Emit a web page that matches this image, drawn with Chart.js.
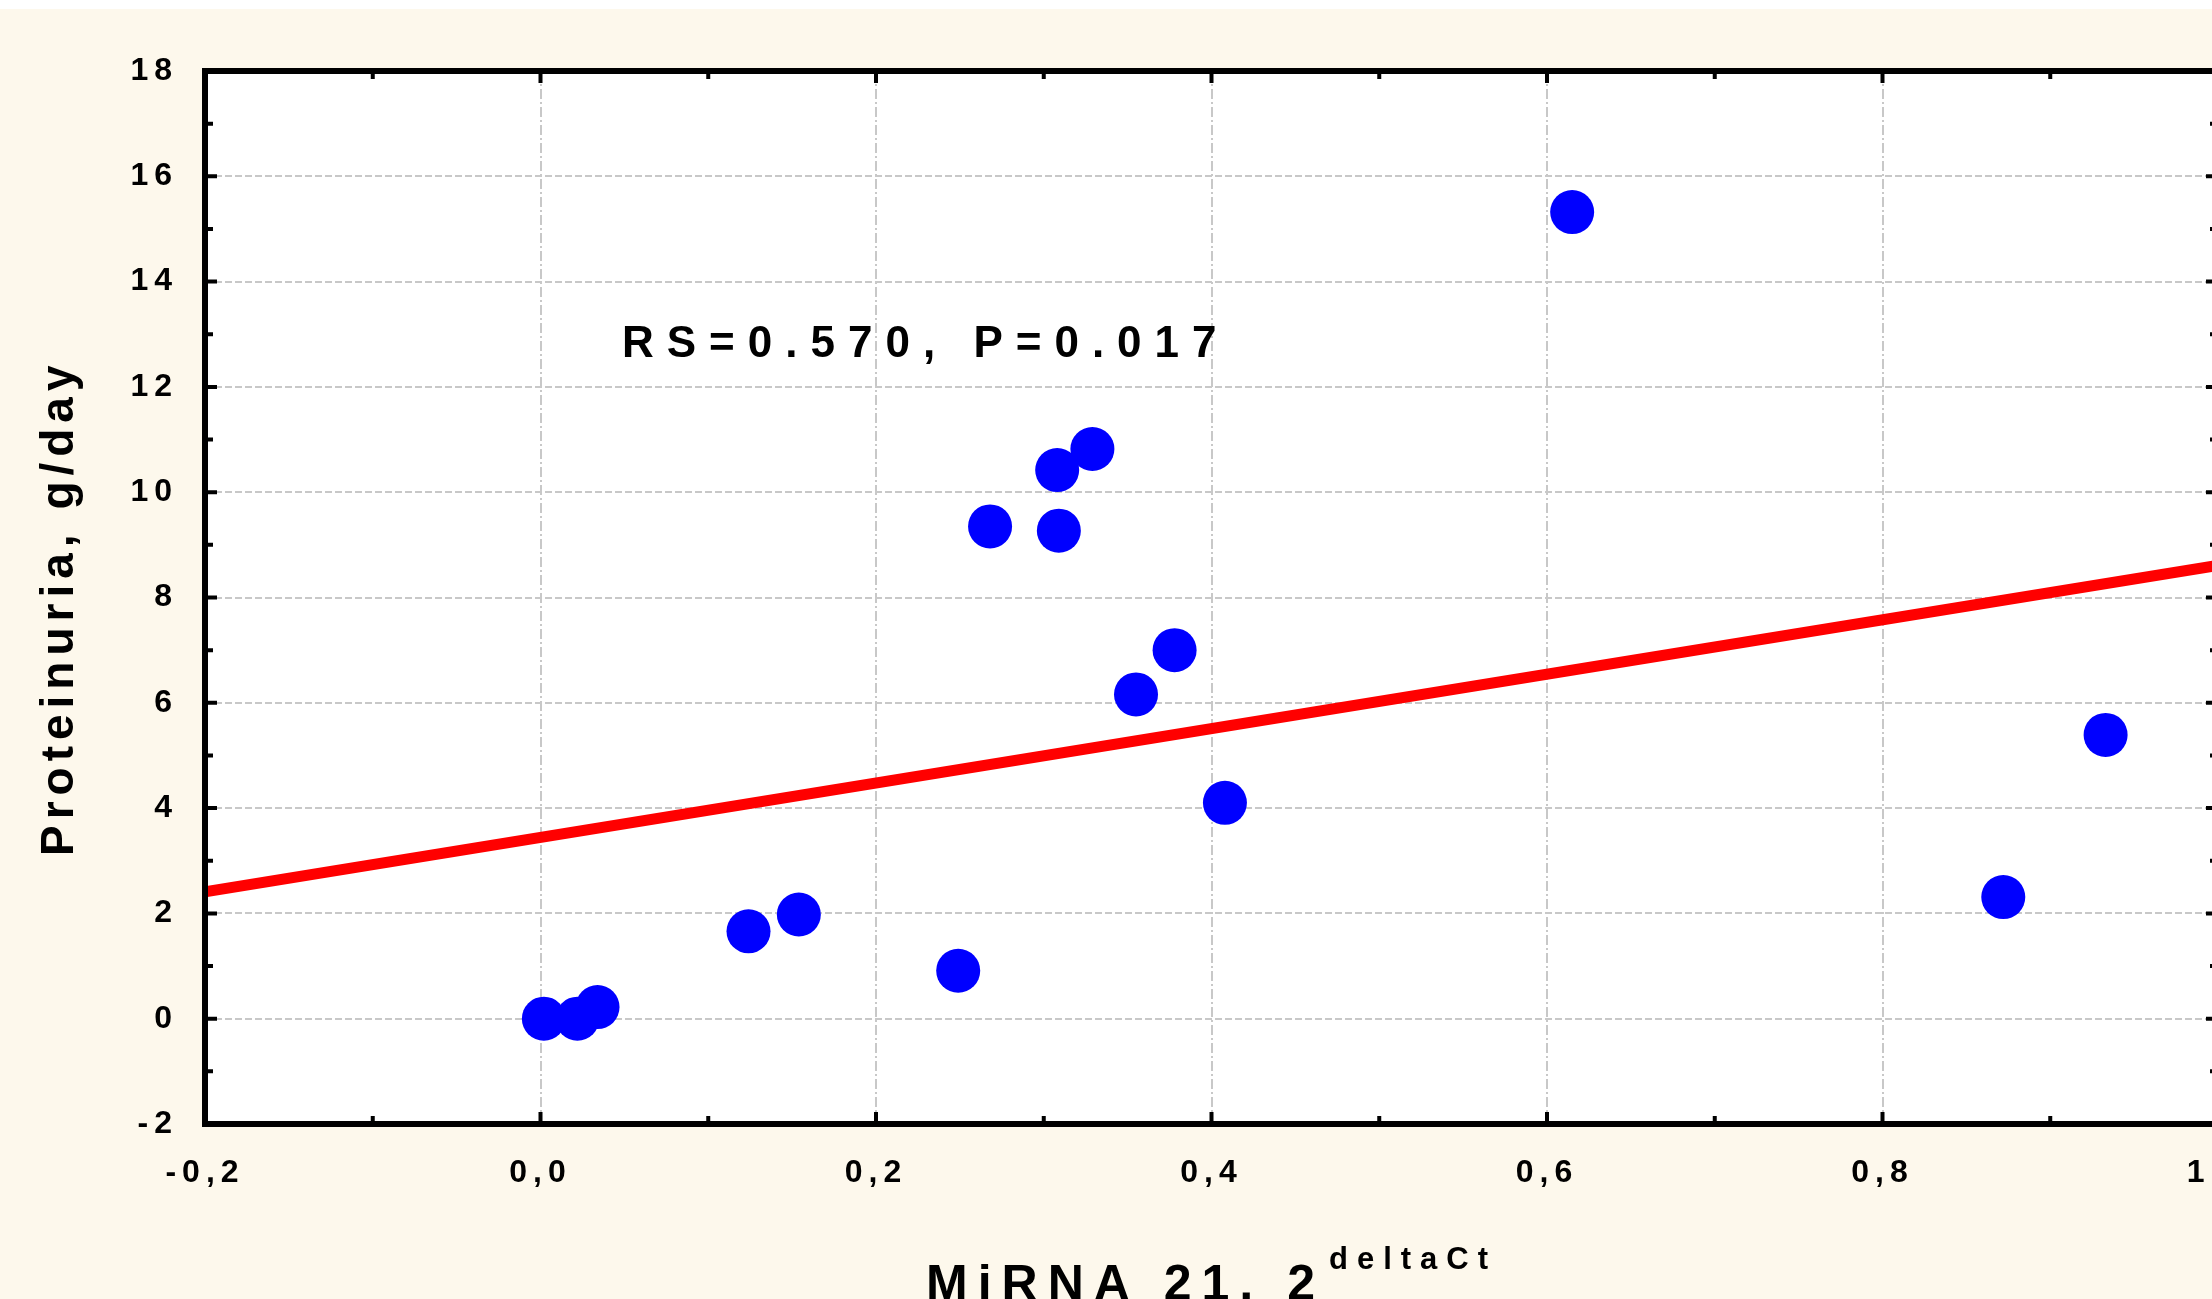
<!DOCTYPE html>
<html>
<head>
<meta charset="utf-8">
<script src="https://cdn.jsdelivr.net/npm/chart.js@4.4.1/dist/chart.umd.min.js"></script>
<style>
  html, body { margin: 0; padding: 0; overflow: hidden; background: #ffffff; }
  #myChart { display: block; }
</style>
</head>
<body>
<canvas id="myChart" width="2212" height="1299"></canvas>
<script>
// values
const mirna21     = [0.002, 0.022, 0.034, 0.124, 0.154, 0.249, 0.268, 0.308, 0.309, 0.329, 0.355, 0.378, 0.408, 0.615, 0.872, 0.933];
const proteinuria = [0.00,  0.00,  0.22,  1.66,  1.98,  0.91,  9.35,  10.42, 9.27,  10.82, 6.16,  7.00,  4.10,  15.32, 2.31,  5.39];

// regression line end points
const fitX = [-0.2, 1.0];
const fitY = [2.41, 8.61];

const xTickValues = [-0.2, 0.0, 0.2, 0.4, 0.6, 0.8, 1.0];
const yTickValues = [-2, 0, 2, 4, 6, 8, 10, 12, 14, 16, 18];

const statText = "RS=0.570, P=0.017";
const yTitle = "Proteinuria, g/day";
const xTitle = "MiRNA 21, 2";
const xTitleSup = "deltaCt";

const FONT = '"Liberation Sans", Arial, sans-serif';

// in the reference the plot frame runs a few px past the right edge of the picture
const PLOT_RIGHT = 2218;

const points = mirna21.map((x, i) => ({ x: x, y: proteinuria[i] }));
const fitLine = fitX.map((x, i) => ({ x: x, y: fitY[i] }));

const framePlugin = {
  id: "frame",
  afterLayout(chart) {
    const a = chart.chartArea;
    a.right = PLOT_RIGHT;
    a.width = a.right - a.left;
    const xs = chart.scales.x;
    xs.right = PLOT_RIGHT;
    xs.width = xs.right - xs.left;
    xs.configure();
  },
  beforeDraw(chart) {
    const ctx = chart.ctx;
    const a = chart.chartArea;
    ctx.save();
    ctx.fillStyle = "#fdf8ec";
    ctx.fillRect(0, 0, chart.width, chart.height);
    ctx.fillStyle = "#ffffff";
    ctx.fillRect(0, 0, chart.width, 9);
    ctx.fillRect(a.left, a.top, a.right - a.left, a.bottom - a.top);
    ctx.restore();
    // tick labels are spaced out a little in the reference
    ctx.letterSpacing = "6px";
  },
  afterDraw(chart) {
    const ctx = chart.ctx;
    const a = chart.chartArea;
    const xs = chart.scales.x;
    const ys = chart.scales.y;
    ctx.save();
    ctx.strokeStyle = "#000000";

    // inward ticks, minor every 0.1 / 1
    ctx.lineWidth = 4;
    for (let i = 0; i <= 12; i++) {
      const px = xs.getPixelForValue(-0.2 + i * 0.1);
      const len = i % 2 === 0 ? 12 : 8;
      ctx.beginPath();
      ctx.moveTo(px, a.bottom); ctx.lineTo(px, a.bottom - len);
      ctx.moveTo(px, a.top); ctx.lineTo(px, a.top + len);
      ctx.stroke();
    }
    for (let i = 0; i <= 20; i++) {
      const py = ys.getPixelForValue(-2 + i);
      const len = i % 2 === 0 ? 12 : 8;
      ctx.beginPath();
      ctx.moveTo(a.left, py); ctx.lineTo(a.left + len, py);
      ctx.moveTo(a.right, py); ctx.lineTo(a.right - len, py);
      ctx.stroke();
    }

    // frame
    ctx.lineWidth = 6;
    ctx.strokeRect(a.left, a.top, a.right - a.left, a.bottom - a.top);

    ctx.fillStyle = "#000000";
    ctx.textBaseline = "alphabetic";
    ctx.textAlign = "left";

    // statistics
    ctx.letterSpacing = "13px";
    ctx.font = "bold 44px " + FONT;
    ctx.fillText(statText, 622, 357);

    // x title with superscript
    ctx.letterSpacing = "10px";
    ctx.font = "bold 50px " + FONT;
    ctx.fillText(xTitle, 926, 1300);
    ctx.letterSpacing = "9px";
    ctx.font = "bold 31px " + FONT;
    ctx.fillText(xTitleSup, 1329, 1269);

    // y title
    ctx.translate(73, 856);
    ctx.rotate(-Math.PI / 2);
    ctx.letterSpacing = "6px";
    ctx.font = "bold 46px " + FONT;
    ctx.fillText(yTitle, 0, 0);
    ctx.restore();
  }
};

const ctx = document.getElementById("myChart");
const myChart = new Chart(ctx, {
  type: "scatter",
  plugins: [framePlugin],
  data: {
    datasets: [
      {
        label: "patients",
        data: points,
        backgroundColor: "#0000ff",
        borderWidth: 0,
        pointRadius: 22,
        pointHoverRadius: 22,
        order: 1
      },
      {
        type: "line",
        label: "fit",
        data: fitLine,
        borderColor: "#ff0000",
        borderWidth: 11,
        pointRadius: 0,
        fill: false,
        order: 2
      }
    ]
  },
  options: {
    responsive: false,
    maintainAspectRatio: false,
    animation: false,
    layout: { padding: { top: 71, right: 4, left: 0, bottom: 0 } },
    plugins: {
      legend: { display: false },
      tooltip: { enabled: false }
    },
    scales: {
      x: {
        type: "linear",
        min: -0.2,
        max: 1.0,
        afterBuildTicks: (s) => { s.ticks = xTickValues.map(v => ({ value: v })); },
        afterFit: (s) => { s.height = 175; s.paddingLeft = 0; s.paddingRight = 0; },
        ticks: {
          padding: 30,
          color: "#000000",
          font: { family: FONT, size: 32, weight: "bold" },
          maxRotation: 0,
          callback: (v) => v.toFixed(1).replace(".", ",")
        },
        grid: {
          color: "#c8c8c8",
          lineWidth: 2,
          drawTicks: false,
          tickLength: 0
        },
        border: { display: false, dash: [10, 3, 2, 3] }
      },
      y: {
        type: "linear",
        min: -2,
        max: 18,
        afterBuildTicks: (s) => { s.ticks = yTickValues.map(v => ({ value: v })); },
        afterFit: (s) => { s.width = 205; s.paddingTop = 0; s.paddingBottom = 0; },
        ticks: {
          padding: 27,
          color: "#000000",
          font: { family: FONT, size: 32, weight: "bold" },
          callback: (v) => String(v)
        },
        grid: {
          color: "#c8c8c8",
          lineWidth: 2,
          drawTicks: false,
          tickLength: 0
        },
        border: { display: false, dash: [7, 3] }
      }
    }
  }
});
</script>
</body>
</html>
